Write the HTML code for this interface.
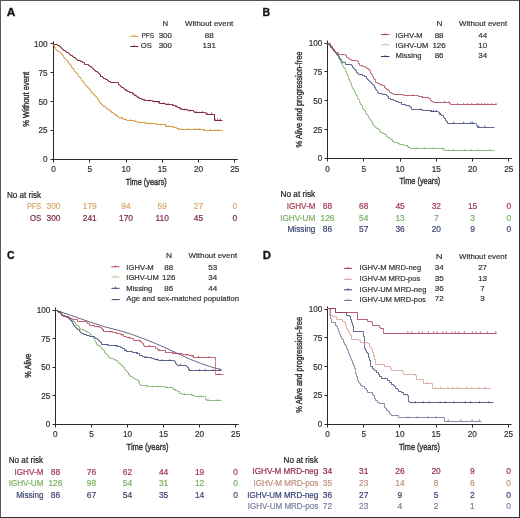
<!DOCTYPE html>
<html><head><meta charset="utf-8"><style>
html,body{margin:0;padding:0;background:#fff;}
svg{display:block;will-change:transform;font-family:"Liberation Sans", sans-serif;}
</style></head><body>
<svg width="520" height="518" viewBox="0 0 520 518">
<rect width="520" height="518" fill="#fff"/>
<line x1="0" y1="0.5" x2="520" y2="0.5" stroke="#555" stroke-width="1"/>
<line x1="0.5" y1="0" x2="0.5" y2="518" stroke="#5a5a5a" stroke-width="1"/>
<line x1="519.5" y1="0" x2="519.5" y2="518" stroke="#333" stroke-width="1"/>
<line x1="0" y1="517.5" x2="520" y2="517.5" stroke="#333" stroke-width="1"/>
<text x="6.70" y="16.04" font-size="11.1" font-weight="bold" fill="#111" stroke="#111" stroke-width="0.3" textLength="8.60" lengthAdjust="spacingAndGlyphs">A</text>
<line x1="53.50" y1="41.30" x2="53.50" y2="159.50" stroke="#2a2a2a" stroke-width="1.0"/>
<line x1="53.00" y1="159.50" x2="237.75" y2="159.50" stroke="#2a2a2a" stroke-width="1.0"/>
<line x1="50.50" y1="159.50" x2="53.50" y2="159.50" stroke="#2a2a2a" stroke-width="1.0"/>
<text x="47.60" y="162.26" font-size="8.2" fill="#333333" stroke="#333333" stroke-width="0.2" text-anchor="end">0</text>
<line x1="50.50" y1="130.50" x2="53.50" y2="130.50" stroke="#2a2a2a" stroke-width="1.0"/>
<text x="47.60" y="133.39" font-size="8.2" fill="#333333" stroke="#333333" stroke-width="0.2" text-anchor="end">25</text>
<line x1="50.50" y1="101.50" x2="53.50" y2="101.50" stroke="#2a2a2a" stroke-width="1.0"/>
<text x="47.60" y="104.51" font-size="8.2" fill="#333333" stroke="#333333" stroke-width="0.2" text-anchor="end">50</text>
<line x1="50.50" y1="72.50" x2="53.50" y2="72.50" stroke="#2a2a2a" stroke-width="1.0"/>
<text x="47.60" y="75.63" font-size="8.2" fill="#333333" stroke="#333333" stroke-width="0.2" text-anchor="end">75</text>
<line x1="50.50" y1="43.50" x2="53.50" y2="43.50" stroke="#2a2a2a" stroke-width="1.0"/>
<text x="47.60" y="46.76" font-size="8.2" fill="#333333" stroke="#333333" stroke-width="0.2" text-anchor="end">100</text>
<line x1="53.50" y1="159.50" x2="53.50" y2="162.50" stroke="#2a2a2a" stroke-width="1.0"/>
<text x="53.50" y="172.26" font-size="8.2" fill="#333333" stroke="#333333" stroke-width="0.2" text-anchor="middle">0</text>
<line x1="89.50" y1="159.50" x2="89.50" y2="162.50" stroke="#2a2a2a" stroke-width="1.0"/>
<text x="89.75" y="172.26" font-size="8.2" fill="#333333" stroke="#333333" stroke-width="0.2" text-anchor="middle">5</text>
<line x1="126.50" y1="159.50" x2="126.50" y2="162.50" stroke="#2a2a2a" stroke-width="1.0"/>
<text x="126.00" y="172.26" font-size="8.2" fill="#333333" stroke="#333333" stroke-width="0.2" text-anchor="middle">10</text>
<line x1="162.50" y1="159.50" x2="162.50" y2="162.50" stroke="#2a2a2a" stroke-width="1.0"/>
<text x="162.25" y="172.26" font-size="8.2" fill="#333333" stroke="#333333" stroke-width="0.2" text-anchor="middle">15</text>
<line x1="198.50" y1="159.50" x2="198.50" y2="162.50" stroke="#2a2a2a" stroke-width="1.0"/>
<text x="198.50" y="172.26" font-size="8.2" fill="#333333" stroke="#333333" stroke-width="0.2" text-anchor="middle">20</text>
<line x1="234.50" y1="159.50" x2="234.50" y2="162.50" stroke="#2a2a2a" stroke-width="1.0"/>
<text x="234.75" y="172.26" font-size="8.2" fill="#333333" stroke="#333333" stroke-width="0.2" text-anchor="middle">25</text>
<text x="125.70" y="184.96" font-size="9.6" fill="#333333" stroke="#333333" stroke-width="0.4" textLength="41.10" lengthAdjust="spacingAndGlyphs">Time (years)</text>
<text transform="translate(29.00,126.70) rotate(-90)" x="0" y="0" font-size="9.3" fill="#333333" stroke="#333333" stroke-width="0.4" textLength="54.90" lengthAdjust="spacingAndGlyphs">% Without event</text>
<text x="162.40" y="26.11" font-size="8.0" fill="#333333" stroke="#333333" stroke-width="0.2" textLength="5.60" lengthAdjust="spacingAndGlyphs">N</text>
<text x="185.00" y="26.11" font-size="8.0" fill="#333333" stroke="#333333" stroke-width="0.2" textLength="48.30" lengthAdjust="spacingAndGlyphs">Without event</text>
<line x1="130.20" y1="36.30" x2="138.30" y2="36.30" stroke="#D8983E" stroke-width="1.0"/>
<line x1="134.25" y1="34.70" x2="134.25" y2="36.60" stroke="#D8983E" stroke-width="0.8"/>
<line x1="130.20" y1="46.50" x2="138.30" y2="46.50" stroke="#801E3E" stroke-width="1.0"/>
<line x1="134.25" y1="44.90" x2="134.25" y2="46.80" stroke="#801E3E" stroke-width="0.8"/>
<text x="141.40" y="37.81" font-size="8.0" fill="#333333" stroke="#333333" stroke-width="0.2" textLength="12.70" lengthAdjust="spacingAndGlyphs">PFS</text>
<text x="158.70" y="37.81" font-size="8.0" fill="#333333" stroke="#333333" stroke-width="0.2" textLength="13.30" lengthAdjust="spacingAndGlyphs">300</text>
<text x="209.20" y="37.81" font-size="8.0" fill="#333333" stroke="#333333" stroke-width="0.2" text-anchor="middle">88</text>
<text x="140.80" y="48.11" font-size="8.0" fill="#333333" stroke="#333333" stroke-width="0.2" textLength="11.00" lengthAdjust="spacingAndGlyphs">OS</text>
<text x="158.70" y="48.11" font-size="8.0" fill="#333333" stroke="#333333" stroke-width="0.2" textLength="13.30" lengthAdjust="spacingAndGlyphs">300</text>
<text x="209.20" y="48.11" font-size="8.0" fill="#333333" stroke="#333333" stroke-width="0.2" text-anchor="middle">131</text>
<text x="6.90" y="197.57" font-size="8.4" fill="#222" stroke="#222" stroke-width="0.2" textLength="34.20" lengthAdjust="spacingAndGlyphs">No at risk</text>
<text x="26.90" y="209.37" font-size="8.4" fill="#D8A868" stroke="#D8A868" stroke-width="0.2" textLength="14.20" lengthAdjust="spacingAndGlyphs">PFS</text>
<text x="53.50" y="209.37" font-size="8.4" fill="#D8A868" stroke="#D8A868" stroke-width="0.2" text-anchor="middle">300</text>
<text x="89.75" y="209.37" font-size="8.4" fill="#D8A868" stroke="#D8A868" stroke-width="0.2" text-anchor="middle">179</text>
<text x="126.00" y="209.37" font-size="8.4" fill="#D8A868" stroke="#D8A868" stroke-width="0.2" text-anchor="middle">94</text>
<text x="162.25" y="209.37" font-size="8.4" fill="#D8A868" stroke="#D8A868" stroke-width="0.2" text-anchor="middle">59</text>
<text x="198.50" y="209.37" font-size="8.4" fill="#D8A868" stroke="#D8A868" stroke-width="0.2" text-anchor="middle">27</text>
<text x="234.75" y="209.37" font-size="8.4" fill="#D8A868" stroke="#D8A868" stroke-width="0.2" text-anchor="middle">0</text>
<text x="29.90" y="220.97" font-size="8.4" fill="#7E2A46" stroke="#7E2A46" stroke-width="0.2" textLength="11.20" lengthAdjust="spacingAndGlyphs">OS</text>
<text x="53.50" y="220.97" font-size="8.4" fill="#7E2A46" stroke="#7E2A46" stroke-width="0.2" text-anchor="middle">300</text>
<text x="89.75" y="220.97" font-size="8.4" fill="#7E2A46" stroke="#7E2A46" stroke-width="0.2" text-anchor="middle">241</text>
<text x="126.00" y="220.97" font-size="8.4" fill="#7E2A46" stroke="#7E2A46" stroke-width="0.2" text-anchor="middle">170</text>
<text x="162.25" y="220.97" font-size="8.4" fill="#7E2A46" stroke="#7E2A46" stroke-width="0.2" text-anchor="middle">110</text>
<text x="198.50" y="220.97" font-size="8.4" fill="#7E2A46" stroke="#7E2A46" stroke-width="0.2" text-anchor="middle">45</text>
<text x="234.75" y="220.97" font-size="8.4" fill="#7E2A46" stroke="#7E2A46" stroke-width="0.2" text-anchor="middle">0</text>
<polyline points="53.50,44.50 53.50,45.50 54.50,45.50 54.50,46.50 54.50,47.50 55.50,47.50 55.50,48.50 55.50,49.50 56.50,49.50 56.50,50.50 57.50,50.50 57.50,51.50 58.50,51.50 59.50,51.50 59.50,52.50 60.50,52.50 60.50,53.50 61.50,53.50 61.50,54.50 62.50,54.50 62.50,55.50 63.50,55.50 63.50,56.50 63.50,57.50 64.50,57.50 64.50,58.50 65.50,58.50 65.50,59.50 66.50,59.50 66.50,60.50 67.50,60.50 67.50,61.50 68.50,61.50 68.50,62.50 68.50,63.50 69.50,63.50 69.50,64.50 70.50,64.50 70.50,65.50 71.50,65.50 71.50,66.50 71.50,67.50 72.50,67.50 72.50,68.50 73.50,68.50 73.50,69.50 74.50,69.50 74.50,70.50 74.50,71.50 75.50,71.50 75.50,72.50 76.50,72.50 76.50,73.50 77.50,73.50 77.50,74.50 78.50,74.50 78.50,75.50 78.50,76.50 79.50,76.50 79.50,77.50 80.50,77.50 80.50,78.50 81.50,78.50 81.50,79.50 81.50,80.50 82.50,80.50 82.50,81.50 83.50,81.50 83.50,82.50 84.50,82.50 84.50,83.50 84.50,84.50 85.50,84.50 85.50,85.50 86.50,85.50 86.50,86.50 87.50,86.50 87.50,87.50 88.50,87.50 88.50,88.50 89.50,88.50 89.50,89.50 90.50,89.50 90.50,90.50 90.50,91.50 91.50,91.50 91.50,92.50 92.50,92.50 92.50,93.50 93.50,93.50 93.50,94.50 94.50,94.50 94.50,95.50 95.50,95.50 95.50,96.50 96.50,96.50 96.50,97.50 97.50,97.50 97.50,98.50 97.50,99.50 98.50,99.50 98.50,100.50 99.50,100.50 99.50,101.50 99.50,102.50 100.50,102.50 100.50,103.50 101.50,103.50 101.50,104.50 102.50,104.50 102.50,105.50 103.50,105.50 103.50,106.50 105.50,106.50 105.50,107.50 106.50,107.50 106.50,108.50 107.50,108.50 107.50,109.50 109.50,109.50 109.50,110.50 110.50,110.50 110.50,111.50 111.50,111.50 111.50,112.50 113.50,112.50 113.50,113.50 114.50,113.50 114.50,114.50 115.50,114.50 115.50,115.50 117.50,115.50 117.50,116.50 118.50,116.50 118.50,117.50 121.50,117.50 121.50,118.50 123.50,118.50 123.50,119.50 126.50,119.50 126.50,120.50 134.50,120.50 134.50,121.50 137.50,121.50 137.50,122.50 145.50,122.50 145.50,123.50 156.50,123.50 156.50,124.50 165.50,124.50 165.50,126.50 170.50,126.50 173.50,126.50 173.50,127.50 176.50,127.50 176.50,128.50 179.50,128.50 179.50,129.50 187.50,129.50 201.50,129.50 203.50,129.50 203.50,130.50 222.50,130.50" fill="none" stroke="#D8983E" stroke-width="0.95" stroke-linejoin="miter" opacity="1.0"/>
<polyline points="53.50,44.50 57.50,44.50 57.50,45.50 59.50,45.50 59.50,46.50 60.50,46.50 60.50,47.50 61.50,47.50 61.50,48.50 62.50,48.50 62.50,49.50 63.50,49.50 63.50,50.50 65.50,50.50 65.50,51.50 66.50,51.50 66.50,52.50 68.50,52.50 68.50,53.50 69.50,53.50 69.50,54.50 70.50,54.50 70.50,55.50 72.50,55.50 72.50,56.50 73.50,56.50 73.50,57.50 75.50,57.50 75.50,58.50 76.50,58.50 76.50,59.50 77.50,59.50 77.50,60.50 80.50,60.50 80.50,61.50 82.50,61.50 82.50,62.50 84.50,62.50 84.50,64.50 86.50,64.50 88.50,64.50 88.50,65.50 89.50,65.50 89.50,66.50 91.50,66.50 91.50,67.50 92.50,67.50 92.50,68.50 93.50,68.50 93.50,69.50 94.50,69.50 94.50,70.50 95.50,70.50 95.50,71.50 97.50,71.50 97.50,72.50 98.50,72.50 98.50,73.50 99.50,73.50 99.50,74.50 100.50,74.50 100.50,76.50 102.50,76.50 102.50,77.50 103.50,77.50 103.50,78.50 105.50,78.50 105.50,79.50 107.50,79.50 107.50,80.50 108.50,80.50 108.50,81.50 110.50,81.50 110.50,82.50 115.50,82.50 118.50,82.50 118.50,84.50 119.50,84.50 119.50,85.50 120.50,85.50 120.50,86.50 121.50,86.50 121.50,87.50 123.50,87.50 123.50,88.50 124.50,88.50 124.50,89.50 125.50,89.50 125.50,90.50 127.50,90.50 127.50,91.50 129.50,91.50 129.50,92.50 132.50,92.50 132.50,93.50 133.50,93.50 133.50,94.50 134.50,94.50 134.50,95.50 136.50,95.50 136.50,96.50 137.50,96.50 137.50,97.50 139.50,97.50 139.50,98.50 141.50,98.50 141.50,99.50 144.50,99.50 144.50,100.50 152.50,100.50 152.50,101.50 159.50,101.50 159.50,103.50 165.50,103.50 165.50,104.50 170.50,104.50 172.50,104.50 172.50,105.50 175.50,105.50 175.50,106.50 177.50,106.50 177.50,107.50 179.50,107.50 179.50,108.50 181.50,108.50 181.50,109.50 187.50,109.50 187.50,110.50 193.50,110.50 193.50,111.50 194.50,111.50 194.50,112.50 203.50,112.50 205.50,112.50 205.50,113.50 206.50,113.50 206.50,114.50 214.50,114.50 214.50,120.50 222.50,120.50" fill="none" stroke="#801E3E" stroke-width="0.95" stroke-linejoin="miter" opacity="1.0"/>
<line x1="110.87" y1="112.16" x2="110.87" y2="110.26" stroke="#D8983E" stroke-width="0.8"/>
<line x1="116.76" y1="116.38" x2="116.76" y2="114.48" stroke="#D8983E" stroke-width="0.8"/>
<line x1="122.32" y1="118.87" x2="122.32" y2="116.97" stroke="#D8983E" stroke-width="0.8"/>
<line x1="125.84" y1="120.05" x2="125.84" y2="118.15" stroke="#D8983E" stroke-width="0.8"/>
<line x1="130.32" y1="120.94" x2="130.32" y2="119.04" stroke="#D8983E" stroke-width="0.8"/>
<line x1="134.62" y1="121.69" x2="134.62" y2="119.79" stroke="#D8983E" stroke-width="0.8"/>
<line x1="139.72" y1="123.20" x2="139.72" y2="121.30" stroke="#D8983E" stroke-width="0.8"/>
<line x1="145.38" y1="123.69" x2="145.38" y2="121.79" stroke="#D8983E" stroke-width="0.8"/>
<line x1="148.25" y1="124.03" x2="148.25" y2="122.13" stroke="#D8983E" stroke-width="0.8"/>
<line x1="150.87" y1="124.34" x2="150.87" y2="122.44" stroke="#D8983E" stroke-width="0.8"/>
<line x1="156.71" y1="125.05" x2="156.71" y2="123.15" stroke="#D8983E" stroke-width="0.8"/>
<line x1="160.94" y1="125.68" x2="160.94" y2="123.78" stroke="#D8983E" stroke-width="0.8"/>
<line x1="166.49" y1="126.53" x2="166.49" y2="124.63" stroke="#D8983E" stroke-width="0.8"/>
<line x1="169.00" y1="127.01" x2="169.00" y2="125.11" stroke="#D8983E" stroke-width="0.8"/>
<line x1="173.28" y1="128.23" x2="173.28" y2="126.33" stroke="#D8983E" stroke-width="0.8"/>
<line x1="178.67" y1="129.93" x2="178.67" y2="128.03" stroke="#D8983E" stroke-width="0.8"/>
<line x1="182.08" y1="129.89" x2="182.08" y2="127.99" stroke="#D8983E" stroke-width="0.8"/>
<line x1="188.36" y1="129.55" x2="188.36" y2="127.65" stroke="#D8983E" stroke-width="0.8"/>
<line x1="194.47" y1="129.81" x2="194.47" y2="127.91" stroke="#D8983E" stroke-width="0.8"/>
<line x1="197.09" y1="129.92" x2="197.09" y2="128.02" stroke="#D8983E" stroke-width="0.8"/>
<line x1="199.69" y1="130.03" x2="199.69" y2="128.13" stroke="#D8983E" stroke-width="0.8"/>
<line x1="204.36" y1="130.90" x2="204.36" y2="129.00" stroke="#D8983E" stroke-width="0.8"/>
<line x1="210.62" y1="130.90" x2="210.62" y2="129.00" stroke="#D8983E" stroke-width="0.8"/>
<line x1="214.64" y1="130.90" x2="214.64" y2="129.00" stroke="#D8983E" stroke-width="0.8"/>
<line x1="218.01" y1="130.90" x2="218.01" y2="129.00" stroke="#D8983E" stroke-width="0.8"/>
<line x1="126.21" y1="91.05" x2="126.21" y2="89.15" stroke="#801E3E" stroke-width="0.8"/>
<line x1="132.51" y1="94.28" x2="132.51" y2="92.38" stroke="#801E3E" stroke-width="0.8"/>
<line x1="135.23" y1="96.35" x2="135.23" y2="94.45" stroke="#801E3E" stroke-width="0.8"/>
<line x1="138.07" y1="98.27" x2="138.07" y2="96.37" stroke="#801E3E" stroke-width="0.8"/>
<line x1="143.91" y1="100.59" x2="143.91" y2="98.69" stroke="#801E3E" stroke-width="0.8"/>
<line x1="149.36" y1="101.59" x2="149.36" y2="99.69" stroke="#801E3E" stroke-width="0.8"/>
<line x1="154.54" y1="102.53" x2="154.54" y2="100.63" stroke="#801E3E" stroke-width="0.8"/>
<line x1="158.27" y1="103.26" x2="158.27" y2="101.36" stroke="#801E3E" stroke-width="0.8"/>
<line x1="163.19" y1="104.26" x2="163.19" y2="102.36" stroke="#801E3E" stroke-width="0.8"/>
<line x1="168.12" y1="104.74" x2="168.12" y2="102.84" stroke="#801E3E" stroke-width="0.8"/>
<line x1="172.94" y1="105.87" x2="172.94" y2="103.97" stroke="#801E3E" stroke-width="0.8"/>
<line x1="176.08" y1="107.14" x2="176.08" y2="105.24" stroke="#801E3E" stroke-width="0.8"/>
<line x1="180.30" y1="109.29" x2="180.30" y2="107.39" stroke="#801E3E" stroke-width="0.8"/>
<line x1="184.37" y1="110.49" x2="184.37" y2="108.59" stroke="#801E3E" stroke-width="0.8"/>
<line x1="189.77" y1="111.57" x2="189.77" y2="109.67" stroke="#801E3E" stroke-width="0.8"/>
<line x1="196.25" y1="113.00" x2="196.25" y2="111.10" stroke="#801E3E" stroke-width="0.8"/>
<line x1="202.54" y1="113.00" x2="202.54" y2="111.10" stroke="#801E3E" stroke-width="0.8"/>
<line x1="207.22" y1="114.50" x2="207.22" y2="112.60" stroke="#801E3E" stroke-width="0.8"/>
<line x1="211.50" y1="114.50" x2="211.50" y2="112.60" stroke="#801E3E" stroke-width="0.8"/>
<line x1="215.07" y1="120.30" x2="215.07" y2="118.40" stroke="#801E3E" stroke-width="0.8"/>
<line x1="217.72" y1="120.30" x2="217.72" y2="118.40" stroke="#801E3E" stroke-width="0.8"/>
<line x1="220.33" y1="120.30" x2="220.33" y2="118.40" stroke="#801E3E" stroke-width="0.8"/>
<text x="262.50" y="16.04" font-size="11.1" font-weight="bold" fill="#111" stroke="#111" stroke-width="0.3" textLength="7.60" lengthAdjust="spacingAndGlyphs">B</text>
<line x1="327.50" y1="40.50" x2="327.50" y2="158.50" stroke="#2a2a2a" stroke-width="1.0"/>
<line x1="327.00" y1="158.50" x2="511.88" y2="158.50" stroke="#2a2a2a" stroke-width="1.0"/>
<line x1="324.50" y1="158.50" x2="327.50" y2="158.50" stroke="#2a2a2a" stroke-width="1.0"/>
<text x="322.40" y="161.36" font-size="8.2" fill="#333333" stroke="#333333" stroke-width="0.2" text-anchor="end">0</text>
<line x1="324.50" y1="129.50" x2="327.50" y2="129.50" stroke="#2a2a2a" stroke-width="1.0"/>
<text x="322.40" y="132.51" font-size="8.2" fill="#333333" stroke="#333333" stroke-width="0.2" text-anchor="end">25</text>
<line x1="324.50" y1="100.50" x2="327.50" y2="100.50" stroke="#2a2a2a" stroke-width="1.0"/>
<text x="322.40" y="103.66" font-size="8.2" fill="#333333" stroke="#333333" stroke-width="0.2" text-anchor="end">50</text>
<line x1="324.50" y1="71.50" x2="327.50" y2="71.50" stroke="#2a2a2a" stroke-width="1.0"/>
<text x="322.40" y="74.81" font-size="8.2" fill="#333333" stroke="#333333" stroke-width="0.2" text-anchor="end">75</text>
<line x1="324.50" y1="43.50" x2="327.50" y2="43.50" stroke="#2a2a2a" stroke-width="1.0"/>
<text x="322.40" y="45.96" font-size="8.2" fill="#333333" stroke="#333333" stroke-width="0.2" text-anchor="end">100</text>
<line x1="327.50" y1="158.50" x2="327.50" y2="161.50" stroke="#2a2a2a" stroke-width="1.0"/>
<text x="327.50" y="171.76" font-size="8.2" fill="#333333" stroke="#333333" stroke-width="0.2" text-anchor="middle">0</text>
<line x1="363.50" y1="158.50" x2="363.50" y2="161.50" stroke="#2a2a2a" stroke-width="1.0"/>
<text x="363.77" y="171.76" font-size="8.2" fill="#333333" stroke="#333333" stroke-width="0.2" text-anchor="middle">5</text>
<line x1="400.50" y1="158.50" x2="400.50" y2="161.50" stroke="#2a2a2a" stroke-width="1.0"/>
<text x="400.05" y="171.76" font-size="8.2" fill="#333333" stroke="#333333" stroke-width="0.2" text-anchor="middle">10</text>
<line x1="436.50" y1="158.50" x2="436.50" y2="161.50" stroke="#2a2a2a" stroke-width="1.0"/>
<text x="436.32" y="171.76" font-size="8.2" fill="#333333" stroke="#333333" stroke-width="0.2" text-anchor="middle">15</text>
<line x1="472.50" y1="158.50" x2="472.50" y2="161.50" stroke="#2a2a2a" stroke-width="1.0"/>
<text x="472.60" y="171.76" font-size="8.2" fill="#333333" stroke="#333333" stroke-width="0.2" text-anchor="middle">20</text>
<line x1="508.50" y1="158.50" x2="508.50" y2="161.50" stroke="#2a2a2a" stroke-width="1.0"/>
<text x="508.88" y="171.76" font-size="8.2" fill="#333333" stroke="#333333" stroke-width="0.2" text-anchor="middle">25</text>
<text x="399.40" y="184.46" font-size="9.6" fill="#333333" stroke="#333333" stroke-width="0.4" textLength="40.90" lengthAdjust="spacingAndGlyphs">Time (years)</text>
<text transform="translate(302.30,147.40) rotate(-90)" x="0" y="0" font-size="9.3" fill="#333333" stroke="#333333" stroke-width="0.4" textLength="95.90" lengthAdjust="spacingAndGlyphs">% Alive and progression-free</text>
<text x="436.60" y="26.41" font-size="8.0" fill="#333333" stroke="#333333" stroke-width="0.2" textLength="6.00" lengthAdjust="spacingAndGlyphs">N</text>
<text x="459.10" y="26.41" font-size="8.0" fill="#333333" stroke="#333333" stroke-width="0.2" textLength="48.00" lengthAdjust="spacingAndGlyphs">Without event</text>
<line x1="381.00" y1="34.60" x2="389.50" y2="34.60" stroke="#B0404F" stroke-width="1.0"/>
<line x1="385.25" y1="33.00" x2="385.25" y2="34.90" stroke="#B0404F" stroke-width="0.8"/>
<line x1="381.00" y1="44.80" x2="389.50" y2="44.80" stroke="#A8D098" stroke-width="1.0"/>
<line x1="385.25" y1="43.20" x2="385.25" y2="45.10" stroke="#A8D098" stroke-width="0.8"/>
<line x1="381.00" y1="56.50" x2="389.50" y2="56.50" stroke="#323E72" stroke-width="1.0"/>
<line x1="385.25" y1="54.90" x2="385.25" y2="56.80" stroke="#323E72" stroke-width="0.8"/>
<text x="395.60" y="38.01" font-size="8.0" fill="#333333" stroke="#333333" stroke-width="0.2" textLength="27.00" lengthAdjust="spacingAndGlyphs">IGHV-M</text>
<text x="395.60" y="48.21" font-size="8.0" fill="#333333" stroke="#333333" stroke-width="0.2" textLength="32.80" lengthAdjust="spacingAndGlyphs">IGHV-UM</text>
<text x="395.60" y="57.91" font-size="8.0" fill="#333333" stroke="#333333" stroke-width="0.2" textLength="25.90" lengthAdjust="spacingAndGlyphs">Missing</text>
<text x="439.10" y="37.91" font-size="8.0" fill="#333333" stroke="#333333" stroke-width="0.2" text-anchor="middle">88</text>
<text x="482.80" y="37.91" font-size="8.0" fill="#333333" stroke="#333333" stroke-width="0.2" text-anchor="middle">44</text>
<text x="439.10" y="48.11" font-size="8.0" fill="#333333" stroke="#333333" stroke-width="0.2" text-anchor="middle">126</text>
<text x="482.80" y="48.11" font-size="8.0" fill="#333333" stroke="#333333" stroke-width="0.2" text-anchor="middle">10</text>
<text x="439.10" y="57.91" font-size="8.0" fill="#333333" stroke="#333333" stroke-width="0.2" text-anchor="middle">86</text>
<text x="482.80" y="57.91" font-size="8.0" fill="#333333" stroke="#333333" stroke-width="0.2" text-anchor="middle">34</text>
<text x="280.60" y="197.22" font-size="8.4" fill="#222" stroke="#222" stroke-width="0.2" textLength="34.60" lengthAdjust="spacingAndGlyphs">No at risk</text>
<text x="286.70" y="208.77" font-size="8.4" fill="#A43A50" stroke="#A43A50" stroke-width="0.2" textLength="28.70" lengthAdjust="spacingAndGlyphs">IGHV-M</text>
<text x="327.50" y="208.77" font-size="8.4" fill="#A43A50" stroke="#A43A50" stroke-width="0.2" text-anchor="middle">88</text>
<text x="363.77" y="208.77" font-size="8.4" fill="#A43A50" stroke="#A43A50" stroke-width="0.2" text-anchor="middle">68</text>
<text x="400.05" y="208.77" font-size="8.4" fill="#A43A50" stroke="#A43A50" stroke-width="0.2" text-anchor="middle">45</text>
<text x="436.32" y="208.77" font-size="8.4" fill="#A43A50" stroke="#A43A50" stroke-width="0.2" text-anchor="middle">32</text>
<text x="472.60" y="208.77" font-size="8.4" fill="#A43A50" stroke="#A43A50" stroke-width="0.2" text-anchor="middle">15</text>
<text x="508.88" y="208.77" font-size="8.4" fill="#A43A50" stroke="#A43A50" stroke-width="0.2" text-anchor="middle">0</text>
<text x="280.20" y="220.77" font-size="8.4" fill="#7DB062" stroke="#7DB062" stroke-width="0.2" textLength="35.20" lengthAdjust="spacingAndGlyphs">IGHV-UM</text>
<text x="327.50" y="220.77" font-size="8.4" fill="#7DB062" stroke="#7DB062" stroke-width="0.2" text-anchor="middle">126</text>
<text x="363.77" y="220.77" font-size="8.4" fill="#7DB062" stroke="#7DB062" stroke-width="0.2" text-anchor="middle">54</text>
<text x="400.05" y="220.77" font-size="8.4" fill="#7DB062" stroke="#7DB062" stroke-width="0.2" text-anchor="middle">13</text>
<text x="436.32" y="220.77" font-size="8.4" fill="#7DB062" stroke="#7DB062" stroke-width="0.2" text-anchor="middle">7</text>
<text x="472.60" y="220.77" font-size="8.4" fill="#7DB062" stroke="#7DB062" stroke-width="0.2" text-anchor="middle">3</text>
<text x="508.88" y="220.77" font-size="8.4" fill="#7DB062" stroke="#7DB062" stroke-width="0.2" text-anchor="middle">0</text>
<text x="287.50" y="231.87" font-size="8.4" fill="#3E4672" stroke="#3E4672" stroke-width="0.2" textLength="27.90" lengthAdjust="spacingAndGlyphs">Missing</text>
<text x="327.50" y="231.87" font-size="8.4" fill="#3E4672" stroke="#3E4672" stroke-width="0.2" text-anchor="middle">86</text>
<text x="363.77" y="231.87" font-size="8.4" fill="#3E4672" stroke="#3E4672" stroke-width="0.2" text-anchor="middle">57</text>
<text x="400.05" y="231.87" font-size="8.4" fill="#3E4672" stroke="#3E4672" stroke-width="0.2" text-anchor="middle">36</text>
<text x="436.32" y="231.87" font-size="8.4" fill="#3E4672" stroke="#3E4672" stroke-width="0.2" text-anchor="middle">20</text>
<text x="472.60" y="231.87" font-size="8.4" fill="#3E4672" stroke="#3E4672" stroke-width="0.2" text-anchor="middle">9</text>
<text x="508.88" y="231.87" font-size="8.4" fill="#3E4672" stroke="#3E4672" stroke-width="0.2" text-anchor="middle">0</text>
<polyline points="327.50,43.50 328.50,43.50 328.50,44.50 329.50,44.50 329.50,45.50 330.50,45.50 330.50,46.50 331.50,46.50 331.50,47.50 331.50,48.50 332.50,48.50 332.50,49.50 333.50,49.50 333.50,50.50 333.50,51.50 335.50,51.50 335.50,53.50 337.50,53.50 337.50,54.50 337.50,55.50 338.50,55.50 338.50,57.50 338.50,58.50 339.50,58.50 339.50,59.50 340.50,59.50 340.50,61.50 340.50,62.50 341.50,62.50 341.50,63.50 342.50,63.50 342.50,64.50 342.50,66.50 343.50,66.50 343.50,67.50 344.50,67.50 344.50,68.50 345.50,68.50 345.50,69.50 345.50,71.50 346.50,71.50 346.50,72.50 346.50,73.50 347.50,73.50 347.50,74.50 347.50,75.50 348.50,75.50 348.50,76.50 348.50,78.50 348.50,79.50 349.50,79.50 349.50,80.50 349.50,81.50 350.50,81.50 350.50,82.50 350.50,83.50 351.50,83.50 351.50,85.50 351.50,86.50 352.50,86.50 352.50,87.50 352.50,88.50 353.50,88.50 353.50,89.50 354.50,89.50 354.50,91.50 354.50,92.50 355.50,92.50 355.50,93.50 355.50,94.50 356.50,94.50 356.50,95.50 357.50,95.50 357.50,97.50 357.50,98.50 358.50,98.50 358.50,99.50 359.50,99.50 359.50,100.50 359.50,102.50 360.50,102.50 360.50,103.50 360.50,104.50 361.50,104.50 361.50,105.50 362.50,105.50 362.50,107.50 362.50,108.50 363.50,108.50 363.50,109.50 364.50,109.50 364.50,110.50 365.50,110.50 365.50,112.50 365.50,113.50 366.50,113.50 366.50,114.50 367.50,114.50 367.50,115.50 368.50,115.50 368.50,116.50 368.50,117.50 369.50,117.50 369.50,119.50 370.50,119.50 370.50,120.50 371.50,120.50 371.50,121.50 372.50,121.50 372.50,122.50 372.50,124.50 373.50,124.50 373.50,125.50 374.50,125.50 374.50,126.50 375.50,126.50 375.50,127.50 376.50,127.50 376.50,128.50 378.50,128.50 378.50,129.50 379.50,129.50 379.50,131.50 380.50,131.50 380.50,132.50 382.50,132.50 382.50,133.50 384.50,133.50 384.50,134.50 386.50,134.50 386.50,136.50 387.50,136.50 387.50,137.50 389.50,137.50 389.50,138.50 390.50,138.50 390.50,139.50 392.50,139.50 392.50,141.50 394.50,141.50 394.50,142.50 397.50,142.50 397.50,143.50 399.50,143.50 399.50,144.50 403.50,144.50 403.50,145.50 407.50,145.50 407.50,146.50 408.50,146.50 408.50,147.50 410.50,147.50 410.50,148.50 442.50,148.50 443.50,148.50 443.50,149.50 444.50,149.50 444.50,150.50 494.50,150.50" fill="none" stroke="#78AE64" stroke-width="0.8" stroke-linejoin="miter" opacity="1.0"/>
<polyline points="327.50,43.50 328.50,43.50 328.50,44.50 329.50,44.50 329.50,45.50 330.50,45.50 330.50,47.50 332.50,47.50 332.50,48.50 332.50,49.50 333.50,49.50 333.50,50.50 334.50,50.50 334.50,51.50 335.50,51.50 335.50,52.50 336.50,52.50 336.50,54.50 337.50,54.50 337.50,55.50 338.50,55.50 338.50,56.50 339.50,56.50 339.50,58.50 340.50,58.50 340.50,59.50 341.50,59.50 341.50,60.50 341.50,61.50 342.50,61.50 342.50,62.50 345.50,62.50 345.50,64.50 351.50,64.50 351.50,65.50 352.50,65.50 352.50,67.50 353.50,67.50 353.50,68.50 354.50,68.50 354.50,69.50 355.50,69.50 355.50,70.50 356.50,70.50 356.50,72.50 357.50,72.50 357.50,73.50 358.50,73.50 358.50,74.50 362.50,74.50 362.50,75.50 364.50,75.50 364.50,76.50 366.50,76.50 366.50,78.50 367.50,78.50 367.50,79.50 368.50,79.50 368.50,80.50 369.50,80.50 369.50,81.50 370.50,81.50 370.50,82.50 371.50,82.50 371.50,83.50 372.50,83.50 372.50,84.50 373.50,84.50 373.50,85.50 374.50,85.50 374.50,87.50 375.50,87.50 375.50,88.50 375.50,89.50 376.50,89.50 376.50,90.50 377.50,90.50 377.50,91.50 377.50,92.50 378.50,92.50 378.50,93.50 382.50,93.50 382.50,94.50 386.50,94.50 386.50,95.50 387.50,95.50 387.50,96.50 388.50,96.50 388.50,98.50 390.50,98.50 390.50,99.50 393.50,99.50 393.50,100.50 395.50,100.50 395.50,101.50 398.50,101.50 398.50,102.50 401.50,102.50 401.50,104.50 405.50,104.50 405.50,105.50 409.50,105.50 409.50,106.50 410.50,106.50 410.50,107.50 411.50,107.50 411.50,109.50 419.50,109.50 422.50,109.50 422.50,110.50 430.50,110.50 430.50,111.50 437.50,111.50 438.50,111.50 438.50,112.50 439.50,112.50 439.50,114.50 441.50,114.50 441.50,115.50 443.50,115.50 443.50,116.50 443.50,117.50 444.50,117.50 444.50,118.50 445.50,118.50 445.50,120.50 446.50,120.50 446.50,121.50 447.50,121.50 447.50,123.50 475.50,123.50 476.50,123.50 476.50,124.50 476.50,125.50 477.50,125.50 477.50,127.50 494.50,127.50" fill="none" stroke="#323E72" stroke-width="0.8" stroke-linejoin="miter" opacity="1.0"/>
<polyline points="327.50,43.50 330.50,43.50 330.50,44.50 330.50,45.50 331.50,45.50 331.50,46.50 332.50,46.50 332.50,47.50 332.50,48.50 333.50,48.50 333.50,49.50 334.50,49.50 334.50,50.50 334.50,51.50 335.50,51.50 335.50,52.50 338.50,52.50 338.50,54.50 344.50,54.50 345.50,54.50 345.50,55.50 346.50,55.50 346.50,57.50 348.50,57.50 348.50,58.50 349.50,58.50 349.50,59.50 351.50,59.50 351.50,60.50 357.50,60.50 357.50,61.50 358.50,61.50 358.50,62.50 358.50,63.50 359.50,63.50 359.50,65.50 362.50,65.50 362.50,66.50 365.50,66.50 365.50,67.50 366.50,67.50 366.50,68.50 368.50,68.50 368.50,69.50 369.50,69.50 369.50,70.50 370.50,70.50 370.50,71.50 370.50,73.50 371.50,73.50 371.50,74.50 372.50,74.50 372.50,75.50 372.50,76.50 373.50,76.50 373.50,77.50 373.50,78.50 374.50,78.50 374.50,79.50 375.50,79.50 375.50,81.50 375.50,82.50 377.50,82.50 377.50,83.50 379.50,83.50 379.50,84.50 381.50,84.50 381.50,85.50 384.50,85.50 384.50,87.50 385.50,87.50 385.50,88.50 386.50,88.50 386.50,89.50 388.50,89.50 388.50,90.50 389.50,90.50 389.50,92.50 391.50,92.50 391.50,93.50 393.50,93.50 393.50,94.50 403.50,94.50 403.50,95.50 415.50,95.50 418.50,95.50 418.50,96.50 422.50,96.50 422.50,97.50 428.50,97.50 428.50,98.50 430.50,98.50 430.50,100.50 431.50,100.50 431.50,101.50 433.50,101.50 433.50,102.50 448.50,102.50 449.50,102.50 449.50,103.50 450.50,103.50 450.50,104.50 496.50,104.50" fill="none" stroke="#B0404F" stroke-width="0.8" stroke-linejoin="miter" opacity="1.0"/>
<line x1="413.20" y1="96.00" x2="413.20" y2="94.10" stroke="#B0404F" stroke-width="0.8"/>
<line x1="422.30" y1="97.78" x2="422.30" y2="95.88" stroke="#B0404F" stroke-width="0.8"/>
<line x1="444.50" y1="102.70" x2="444.50" y2="100.80" stroke="#B0404F" stroke-width="0.8"/>
<line x1="449.10" y1="103.30" x2="449.10" y2="101.40" stroke="#B0404F" stroke-width="0.8"/>
<line x1="457.60" y1="105.00" x2="457.60" y2="103.10" stroke="#B0404F" stroke-width="0.8"/>
<line x1="463.70" y1="105.00" x2="463.70" y2="103.10" stroke="#B0404F" stroke-width="0.8"/>
<line x1="467.70" y1="105.00" x2="467.70" y2="103.10" stroke="#B0404F" stroke-width="0.8"/>
<line x1="471.80" y1="105.00" x2="471.80" y2="103.10" stroke="#B0404F" stroke-width="0.8"/>
<line x1="476.80" y1="105.00" x2="476.80" y2="103.10" stroke="#B0404F" stroke-width="0.8"/>
<line x1="478.80" y1="105.00" x2="478.80" y2="103.10" stroke="#B0404F" stroke-width="0.8"/>
<line x1="481.90" y1="105.00" x2="481.90" y2="103.10" stroke="#B0404F" stroke-width="0.8"/>
<line x1="484.90" y1="105.00" x2="484.90" y2="103.10" stroke="#B0404F" stroke-width="0.8"/>
<line x1="487.90" y1="105.00" x2="487.90" y2="103.10" stroke="#B0404F" stroke-width="0.8"/>
<line x1="491.60" y1="105.00" x2="491.60" y2="103.10" stroke="#B0404F" stroke-width="0.8"/>
<line x1="496.00" y1="105.00" x2="496.00" y2="103.10" stroke="#B0404F" stroke-width="0.8"/>
<line x1="420.30" y1="110.34" x2="420.30" y2="108.44" stroke="#323E72" stroke-width="0.8"/>
<line x1="431.40" y1="112.00" x2="431.40" y2="110.10" stroke="#323E72" stroke-width="0.8"/>
<line x1="433.40" y1="112.00" x2="433.40" y2="110.10" stroke="#323E72" stroke-width="0.8"/>
<line x1="436.40" y1="112.00" x2="436.40" y2="110.10" stroke="#323E72" stroke-width="0.8"/>
<line x1="440.50" y1="115.03" x2="440.50" y2="113.13" stroke="#323E72" stroke-width="0.8"/>
<line x1="453.60" y1="123.50" x2="453.60" y2="121.60" stroke="#323E72" stroke-width="0.8"/>
<line x1="463.70" y1="123.50" x2="463.70" y2="121.60" stroke="#323E72" stroke-width="0.8"/>
<line x1="470.80" y1="123.50" x2="470.80" y2="121.60" stroke="#323E72" stroke-width="0.8"/>
<line x1="472.80" y1="123.50" x2="472.80" y2="121.60" stroke="#323E72" stroke-width="0.8"/>
<line x1="478.80" y1="127.40" x2="478.80" y2="125.50" stroke="#323E72" stroke-width="0.8"/>
<line x1="484.90" y1="127.40" x2="484.90" y2="125.50" stroke="#323E72" stroke-width="0.8"/>
<line x1="407.86" y1="147.40" x2="407.86" y2="145.50" stroke="#78AE64" stroke-width="0.8"/>
<line x1="416.67" y1="149.00" x2="416.67" y2="147.10" stroke="#78AE64" stroke-width="0.8"/>
<line x1="424.25" y1="149.00" x2="424.25" y2="147.10" stroke="#78AE64" stroke-width="0.8"/>
<line x1="433.48" y1="149.00" x2="433.48" y2="147.10" stroke="#78AE64" stroke-width="0.8"/>
<line x1="442.86" y1="149.40" x2="442.86" y2="147.50" stroke="#78AE64" stroke-width="0.8"/>
<line x1="448.32" y1="151.00" x2="448.32" y2="149.10" stroke="#78AE64" stroke-width="0.8"/>
<line x1="453.41" y1="151.00" x2="453.41" y2="149.10" stroke="#78AE64" stroke-width="0.8"/>
<line x1="464.28" y1="151.00" x2="464.28" y2="149.10" stroke="#78AE64" stroke-width="0.8"/>
<line x1="471.09" y1="151.00" x2="471.09" y2="149.10" stroke="#78AE64" stroke-width="0.8"/>
<line x1="477.73" y1="151.00" x2="477.73" y2="149.10" stroke="#78AE64" stroke-width="0.8"/>
<line x1="489.70" y1="151.00" x2="489.70" y2="149.10" stroke="#78AE64" stroke-width="0.8"/>
<text x="6.90" y="258.94" font-size="11.1" font-weight="bold" fill="#111" stroke="#111" stroke-width="0.3" textLength="7.60" lengthAdjust="spacingAndGlyphs">C</text>
<line x1="55.50" y1="307.50" x2="55.50" y2="424.50" stroke="#2a2a2a" stroke-width="1.0"/>
<line x1="55.00" y1="424.50" x2="238.65" y2="424.50" stroke="#2a2a2a" stroke-width="1.0"/>
<line x1="52.50" y1="424.50" x2="55.50" y2="424.50" stroke="#2a2a2a" stroke-width="1.0"/>
<text x="50.40" y="427.26" font-size="8.2" fill="#333333" stroke="#333333" stroke-width="0.2" text-anchor="end">0</text>
<line x1="52.50" y1="395.50" x2="55.50" y2="395.50" stroke="#2a2a2a" stroke-width="1.0"/>
<text x="50.40" y="398.69" font-size="8.2" fill="#333333" stroke="#333333" stroke-width="0.2" text-anchor="end">25</text>
<line x1="52.50" y1="367.50" x2="55.50" y2="367.50" stroke="#2a2a2a" stroke-width="1.0"/>
<text x="50.40" y="370.11" font-size="8.2" fill="#333333" stroke="#333333" stroke-width="0.2" text-anchor="end">50</text>
<line x1="52.50" y1="338.50" x2="55.50" y2="338.50" stroke="#2a2a2a" stroke-width="1.0"/>
<text x="50.40" y="341.53" font-size="8.2" fill="#333333" stroke="#333333" stroke-width="0.2" text-anchor="end">75</text>
<line x1="52.50" y1="310.50" x2="55.50" y2="310.50" stroke="#2a2a2a" stroke-width="1.0"/>
<text x="50.40" y="312.96" font-size="8.2" fill="#333333" stroke="#333333" stroke-width="0.2" text-anchor="end">100</text>
<line x1="55.50" y1="424.50" x2="55.50" y2="427.50" stroke="#2a2a2a" stroke-width="1.0"/>
<text x="55.40" y="437.16" font-size="8.2" fill="#333333" stroke="#333333" stroke-width="0.2" text-anchor="middle">0</text>
<line x1="91.50" y1="424.50" x2="91.50" y2="427.50" stroke="#2a2a2a" stroke-width="1.0"/>
<text x="91.45" y="437.16" font-size="8.2" fill="#333333" stroke="#333333" stroke-width="0.2" text-anchor="middle">5</text>
<line x1="127.50" y1="424.50" x2="127.50" y2="427.50" stroke="#2a2a2a" stroke-width="1.0"/>
<text x="127.50" y="437.16" font-size="8.2" fill="#333333" stroke="#333333" stroke-width="0.2" text-anchor="middle">10</text>
<line x1="163.50" y1="424.50" x2="163.50" y2="427.50" stroke="#2a2a2a" stroke-width="1.0"/>
<text x="163.55" y="437.16" font-size="8.2" fill="#333333" stroke="#333333" stroke-width="0.2" text-anchor="middle">15</text>
<line x1="199.50" y1="424.50" x2="199.50" y2="427.50" stroke="#2a2a2a" stroke-width="1.0"/>
<text x="199.60" y="437.16" font-size="8.2" fill="#333333" stroke="#333333" stroke-width="0.2" text-anchor="middle">20</text>
<line x1="235.50" y1="424.50" x2="235.50" y2="427.50" stroke="#2a2a2a" stroke-width="1.0"/>
<text x="235.65" y="437.16" font-size="8.2" fill="#333333" stroke="#333333" stroke-width="0.2" text-anchor="middle">25</text>
<text x="126.60" y="449.96" font-size="9.6" fill="#333333" stroke="#333333" stroke-width="0.4" textLength="41.90" lengthAdjust="spacingAndGlyphs">Time (years)</text>
<text transform="translate(30.80,377.80) rotate(-90)" x="0" y="0" font-size="9.3" fill="#333333" stroke="#333333" stroke-width="0.4" textLength="24.30" lengthAdjust="spacingAndGlyphs">% Alive</text>
<text x="166.00" y="258.41" font-size="8.0" fill="#333333" stroke="#333333" stroke-width="0.2" textLength="6.00" lengthAdjust="spacingAndGlyphs">N</text>
<text x="188.45" y="258.41" font-size="8.0" fill="#333333" stroke="#333333" stroke-width="0.2" textLength="48.75" lengthAdjust="spacingAndGlyphs">Without event</text>
<line x1="111.40" y1="266.80" x2="119.50" y2="266.80" stroke="#B0404F" stroke-width="1.0"/>
<line x1="115.45" y1="265.20" x2="115.45" y2="267.10" stroke="#B0404F" stroke-width="0.8"/>
<line x1="111.40" y1="277.00" x2="119.50" y2="277.00" stroke="#A8D098" stroke-width="1.0"/>
<line x1="115.45" y1="275.40" x2="115.45" y2="277.30" stroke="#A8D098" stroke-width="0.8"/>
<line x1="111.40" y1="288.30" x2="119.50" y2="288.30" stroke="#323E72" stroke-width="1.0"/>
<line x1="115.45" y1="286.70" x2="115.45" y2="288.60" stroke="#323E72" stroke-width="0.8"/>
<line x1="111.70" y1="299.60" x2="119.70" y2="299.60" stroke="#4A3A6E" stroke-width="1.0"/>
<text x="126.30" y="269.91" font-size="8.0" fill="#333333" stroke="#333333" stroke-width="0.2" textLength="27.30" lengthAdjust="spacingAndGlyphs">IGHV-M</text>
<text x="126.30" y="280.21" font-size="8.0" fill="#333333" stroke="#333333" stroke-width="0.2" textLength="32.40" lengthAdjust="spacingAndGlyphs">IGHV-UM</text>
<text x="126.30" y="290.91" font-size="8.0" fill="#333333" stroke="#333333" stroke-width="0.2" textLength="25.90" lengthAdjust="spacingAndGlyphs">Missing</text>
<text x="168.70" y="270.01" font-size="8.0" fill="#333333" stroke="#333333" stroke-width="0.2" text-anchor="middle">88</text>
<text x="212.80" y="270.01" font-size="8.0" fill="#333333" stroke="#333333" stroke-width="0.2" text-anchor="middle">53</text>
<text x="168.70" y="280.21" font-size="8.0" fill="#333333" stroke="#333333" stroke-width="0.2" text-anchor="middle">126</text>
<text x="212.80" y="280.21" font-size="8.0" fill="#333333" stroke="#333333" stroke-width="0.2" text-anchor="middle">34</text>
<text x="168.70" y="290.61" font-size="8.0" fill="#333333" stroke="#333333" stroke-width="0.2" text-anchor="middle">86</text>
<text x="212.80" y="290.61" font-size="8.0" fill="#333333" stroke="#333333" stroke-width="0.2" text-anchor="middle">44</text>
<text x="126.30" y="301.41" font-size="8.0" fill="#333333" stroke="#333333" stroke-width="0.2" textLength="112.80" lengthAdjust="spacingAndGlyphs">Age and sex-matched population</text>
<text x="8.70" y="462.77" font-size="8.4" fill="#222" stroke="#222" stroke-width="0.2" textLength="34.40" lengthAdjust="spacingAndGlyphs">No at risk</text>
<text x="14.50" y="474.57" font-size="8.4" fill="#A43A50" stroke="#A43A50" stroke-width="0.2" textLength="28.90" lengthAdjust="spacingAndGlyphs">IGHV-M</text>
<text x="55.40" y="474.57" font-size="8.4" fill="#A43A50" stroke="#A43A50" stroke-width="0.2" text-anchor="middle">88</text>
<text x="91.45" y="474.57" font-size="8.4" fill="#A43A50" stroke="#A43A50" stroke-width="0.2" text-anchor="middle">76</text>
<text x="127.50" y="474.57" font-size="8.4" fill="#A43A50" stroke="#A43A50" stroke-width="0.2" text-anchor="middle">62</text>
<text x="163.55" y="474.57" font-size="8.4" fill="#A43A50" stroke="#A43A50" stroke-width="0.2" text-anchor="middle">44</text>
<text x="199.60" y="474.57" font-size="8.4" fill="#A43A50" stroke="#A43A50" stroke-width="0.2" text-anchor="middle">19</text>
<text x="235.65" y="474.57" font-size="8.4" fill="#A43A50" stroke="#A43A50" stroke-width="0.2" text-anchor="middle">0</text>
<text x="8.70" y="486.47" font-size="8.4" fill="#7DB062" stroke="#7DB062" stroke-width="0.2" textLength="34.70" lengthAdjust="spacingAndGlyphs">IGHV-UM</text>
<text x="55.40" y="486.47" font-size="8.4" fill="#7DB062" stroke="#7DB062" stroke-width="0.2" text-anchor="middle">126</text>
<text x="91.45" y="486.47" font-size="8.4" fill="#7DB062" stroke="#7DB062" stroke-width="0.2" text-anchor="middle">98</text>
<text x="127.50" y="486.47" font-size="8.4" fill="#7DB062" stroke="#7DB062" stroke-width="0.2" text-anchor="middle">54</text>
<text x="163.55" y="486.47" font-size="8.4" fill="#7DB062" stroke="#7DB062" stroke-width="0.2" text-anchor="middle">31</text>
<text x="199.60" y="486.47" font-size="8.4" fill="#7DB062" stroke="#7DB062" stroke-width="0.2" text-anchor="middle">12</text>
<text x="235.65" y="486.47" font-size="8.4" fill="#7DB062" stroke="#7DB062" stroke-width="0.2" text-anchor="middle">0</text>
<text x="16.20" y="497.87" font-size="8.4" fill="#3E4672" stroke="#3E4672" stroke-width="0.2" textLength="27.20" lengthAdjust="spacingAndGlyphs">Missing</text>
<text x="55.40" y="497.87" font-size="8.4" fill="#3E4672" stroke="#3E4672" stroke-width="0.2" text-anchor="middle">86</text>
<text x="91.45" y="497.87" font-size="8.4" fill="#3E4672" stroke="#3E4672" stroke-width="0.2" text-anchor="middle">67</text>
<text x="127.50" y="497.87" font-size="8.4" fill="#3E4672" stroke="#3E4672" stroke-width="0.2" text-anchor="middle">54</text>
<text x="163.55" y="497.87" font-size="8.4" fill="#3E4672" stroke="#3E4672" stroke-width="0.2" text-anchor="middle">35</text>
<text x="199.60" y="497.87" font-size="8.4" fill="#3E4672" stroke="#3E4672" stroke-width="0.2" text-anchor="middle">14</text>
<text x="235.65" y="497.87" font-size="8.4" fill="#3E4672" stroke="#3E4672" stroke-width="0.2" text-anchor="middle">0</text>
<polyline points="55.50,310.50 57.50,310.50 57.50,311.50 58.50,311.50 58.50,312.50 60.50,312.50 60.50,313.50 62.50,313.50 62.50,315.50 65.50,315.50 65.50,316.50 67.50,316.50 67.50,317.50 70.50,317.50 70.50,318.50 71.50,318.50 71.50,320.50 73.50,320.50 73.50,321.50 74.50,321.50 74.50,322.50 75.50,322.50 75.50,324.50 76.50,324.50 76.50,325.50 78.50,325.50 78.50,326.50 79.50,326.50 79.50,328.50 80.50,328.50 80.50,329.50 83.50,329.50 83.50,330.50 85.50,330.50 85.50,331.50 87.50,331.50 87.50,332.50 89.50,332.50 89.50,333.50 90.50,333.50 90.50,334.50 91.50,334.50 91.50,336.50 93.50,336.50 93.50,337.50 93.50,338.50 94.50,338.50 94.50,339.50 94.50,340.50 95.50,340.50 95.50,341.50 95.50,342.50 96.50,342.50 96.50,344.50 97.50,344.50 97.50,345.50 99.50,345.50 99.50,346.50 100.50,346.50 100.50,347.50 101.50,347.50 101.50,348.50 102.50,348.50 102.50,349.50 103.50,349.50 103.50,350.50 104.50,350.50 104.50,352.50 105.50,352.50 105.50,353.50 106.50,353.50 106.50,354.50 107.50,354.50 107.50,355.50 108.50,355.50 108.50,357.50 110.50,357.50 110.50,358.50 113.50,358.50 113.50,359.50 115.50,359.50 115.50,360.50 117.50,360.50 117.50,361.50 118.50,361.50 118.50,363.50 120.50,363.50 120.50,364.50 121.50,364.50 121.50,365.50 122.50,365.50 122.50,366.50 123.50,366.50 123.50,367.50 124.50,367.50 124.50,369.50 125.50,369.50 125.50,370.50 126.50,370.50 126.50,371.50 127.50,371.50 127.50,372.50 128.50,372.50 128.50,374.50 129.50,374.50 129.50,375.50 130.50,375.50 130.50,376.50 132.50,376.50 132.50,377.50 133.50,377.50 133.50,378.50 135.50,378.50 135.50,379.50 137.50,379.50 137.50,380.50 138.50,380.50 138.50,381.50 139.50,381.50 139.50,382.50 139.50,384.50 140.50,384.50 140.50,385.50 147.50,385.50 147.50,386.50 165.50,386.50 165.50,387.50 172.50,387.50 172.50,388.50 173.50,388.50 173.50,389.50 175.50,389.50 175.50,390.50 177.50,390.50 177.50,391.50 179.50,391.50 179.50,393.50 182.50,393.50 182.50,394.50 192.50,394.50 192.50,395.50 194.50,395.50 194.50,396.50 204.50,396.50 205.50,396.50 205.50,397.50 205.50,399.50 206.50,399.50 206.50,400.50 221.50,400.50" fill="none" stroke="#78AE64" stroke-width="0.8" stroke-linejoin="miter" opacity="1.0"/>
<polyline points="55.50,310.50 57.50,310.50 57.50,311.50 58.50,311.50 58.50,312.50 60.50,312.50 60.50,313.50 61.50,313.50 61.50,315.50 63.50,315.50 63.50,316.50 68.50,316.50 68.50,318.50 69.50,318.50 69.50,319.50 70.50,319.50 70.50,320.50 71.50,320.50 71.50,321.50 72.50,321.50 72.50,322.50 72.50,323.50 73.50,323.50 73.50,325.50 74.50,325.50 74.50,326.50 75.50,326.50 75.50,327.50 76.50,327.50 76.50,328.50 77.50,328.50 77.50,329.50 79.50,329.50 79.50,331.50 80.50,331.50 80.50,332.50 81.50,332.50 81.50,333.50 83.50,333.50 83.50,334.50 86.50,334.50 86.50,335.50 89.50,335.50 89.50,336.50 94.50,336.50 94.50,337.50 95.50,337.50 95.50,338.50 97.50,338.50 97.50,339.50 98.50,339.50 98.50,340.50 99.50,340.50 99.50,341.50 100.50,341.50 100.50,342.50 101.50,342.50 101.50,344.50 108.50,344.50 108.50,345.50 117.50,345.50 117.50,346.50 120.50,346.50 120.50,347.50 122.50,347.50 122.50,348.50 124.50,348.50 124.50,350.50 126.50,350.50 126.50,351.50 132.50,351.50 132.50,352.50 137.50,352.50 137.50,353.50 139.50,353.50 139.50,355.50 142.50,355.50 142.50,356.50 144.50,356.50 144.50,357.50 151.50,357.50 151.50,358.50 154.50,358.50 154.50,359.50 158.50,359.50 158.50,360.50 173.50,360.50 174.50,360.50 174.50,361.50 175.50,361.50 175.50,363.50 176.50,363.50 176.50,364.50 177.50,364.50 177.50,365.50 185.50,365.50 186.50,365.50 186.50,366.50 187.50,366.50 187.50,367.50 188.50,367.50 188.50,368.50 188.50,369.50 189.50,369.50 189.50,370.50 221.50,370.50" fill="none" stroke="#323E72" stroke-width="0.8" stroke-linejoin="miter" opacity="1.0"/>
<polyline points="55.50,310.50 57.50,310.50 57.50,311.50 60.50,311.50 60.50,312.50 60.50,313.50 61.50,313.50 61.50,314.50 62.50,314.50 62.50,315.50 64.50,315.50 64.50,316.50 66.50,316.50 66.50,317.50 69.50,317.50 69.50,318.50 72.50,318.50 72.50,319.50 77.50,319.50 77.50,321.50 86.50,321.50 86.50,322.50 87.50,322.50 87.50,323.50 89.50,323.50 89.50,325.50 94.50,325.50 94.50,326.50 99.50,326.50 99.50,327.50 101.50,327.50 101.50,328.50 102.50,328.50 102.50,329.50 103.50,329.50 103.50,331.50 112.50,331.50 112.50,332.50 116.50,332.50 116.50,333.50 120.50,333.50 120.50,334.50 123.50,334.50 123.50,336.50 126.50,336.50 126.50,337.50 130.50,337.50 130.50,338.50 133.50,338.50 133.50,340.50 140.50,340.50 140.50,341.50 141.50,341.50 141.50,342.50 142.50,342.50 142.50,343.50 143.50,343.50 143.50,345.50 144.50,345.50 144.50,346.50 154.50,346.50 155.50,346.50 155.50,348.50 157.50,348.50 157.50,349.50 158.50,349.50 158.50,350.50 165.50,350.50 165.50,352.50 172.50,352.50 172.50,353.50 177.50,353.50 182.50,353.50 182.50,354.50 188.50,354.50 188.50,355.50 193.50,355.50 193.50,357.50 215.50,357.50 215.50,358.50 215.50,360.50 215.50,361.50 215.50,362.50 215.50,363.50 215.50,365.50 215.50,366.50 215.50,367.50 215.50,368.50 215.50,369.50 215.50,371.50 215.50,372.50 215.50,373.50 215.50,374.50 223.50,374.50" fill="none" stroke="#B0404F" stroke-width="0.8" stroke-linejoin="miter" opacity="1.0"/>
<polyline points="55.60,310.20 70.40,315.20 87.70,321.20 105.10,326.90 120.00,330.80 131.50,334.30 143.10,338.50 154.60,343.10 166.20,348.20 177.70,353.50 189.20,358.80 200.80,363.40 212.30,367.30 221.50,369.60" fill="none" stroke="#4A3A6E" stroke-width="0.8" stroke-linejoin="miter" opacity="1.0"/>
<line x1="97.60" y1="327.50" x2="97.60" y2="325.60" stroke="#B0404F" stroke-width="0.8"/>
<line x1="103.22" y1="331.22" x2="103.22" y2="329.32" stroke="#B0404F" stroke-width="0.8"/>
<line x1="110.59" y1="332.81" x2="110.59" y2="330.91" stroke="#B0404F" stroke-width="0.8"/>
<line x1="116.52" y1="334.22" x2="116.52" y2="332.32" stroke="#B0404F" stroke-width="0.8"/>
<line x1="121.92" y1="335.82" x2="121.92" y2="333.92" stroke="#B0404F" stroke-width="0.8"/>
<line x1="129.33" y1="338.60" x2="129.33" y2="336.70" stroke="#B0404F" stroke-width="0.8"/>
<line x1="139.84" y1="341.76" x2="139.84" y2="339.86" stroke="#B0404F" stroke-width="0.8"/>
<line x1="149.64" y1="346.81" x2="149.64" y2="344.91" stroke="#B0404F" stroke-width="0.8"/>
<line x1="159.23" y1="350.95" x2="159.23" y2="349.05" stroke="#B0404F" stroke-width="0.8"/>
<line x1="165.56" y1="352.45" x2="165.56" y2="350.55" stroke="#B0404F" stroke-width="0.8"/>
<line x1="173.78" y1="353.59" x2="173.78" y2="351.69" stroke="#B0404F" stroke-width="0.8"/>
<line x1="180.44" y1="354.68" x2="180.44" y2="352.78" stroke="#B0404F" stroke-width="0.8"/>
<line x1="186.48" y1="355.85" x2="186.48" y2="353.95" stroke="#B0404F" stroke-width="0.8"/>
<line x1="192.12" y1="357.46" x2="192.12" y2="355.56" stroke="#B0404F" stroke-width="0.8"/>
<line x1="198.40" y1="357.90" x2="198.40" y2="356.00" stroke="#B0404F" stroke-width="0.8"/>
<line x1="208.97" y1="357.90" x2="208.97" y2="356.00" stroke="#B0404F" stroke-width="0.8"/>
<line x1="218.94" y1="375.20" x2="218.94" y2="373.30" stroke="#B0404F" stroke-width="0.8"/>
<line x1="106.85" y1="345.68" x2="106.85" y2="343.78" stroke="#323E72" stroke-width="0.8"/>
<line x1="116.30" y1="346.90" x2="116.30" y2="345.00" stroke="#323E72" stroke-width="0.8"/>
<line x1="126.07" y1="351.18" x2="126.07" y2="349.28" stroke="#323E72" stroke-width="0.8"/>
<line x1="136.73" y1="354.03" x2="136.73" y2="352.13" stroke="#323E72" stroke-width="0.8"/>
<line x1="146.17" y1="357.84" x2="146.17" y2="355.94" stroke="#323E72" stroke-width="0.8"/>
<line x1="156.70" y1="360.54" x2="156.70" y2="358.64" stroke="#323E72" stroke-width="0.8"/>
<line x1="161.88" y1="361.10" x2="161.88" y2="359.20" stroke="#323E72" stroke-width="0.8"/>
<line x1="169.67" y1="361.10" x2="169.67" y2="359.20" stroke="#323E72" stroke-width="0.8"/>
<line x1="180.33" y1="365.50" x2="180.33" y2="363.60" stroke="#323E72" stroke-width="0.8"/>
<line x1="189.22" y1="370.69" x2="189.22" y2="368.79" stroke="#323E72" stroke-width="0.8"/>
<line x1="199.63" y1="371.10" x2="199.63" y2="369.20" stroke="#323E72" stroke-width="0.8"/>
<line x1="205.31" y1="371.10" x2="205.31" y2="369.20" stroke="#323E72" stroke-width="0.8"/>
<line x1="213.12" y1="371.10" x2="213.12" y2="369.20" stroke="#323E72" stroke-width="0.8"/>
<line x1="219.60" y1="371.10" x2="219.60" y2="369.20" stroke="#323E72" stroke-width="0.8"/>
<line x1="128.73" y1="374.84" x2="128.73" y2="372.94" stroke="#78AE64" stroke-width="0.8"/>
<line x1="138.66" y1="382.69" x2="138.66" y2="380.79" stroke="#78AE64" stroke-width="0.8"/>
<line x1="146.57" y1="386.88" x2="146.57" y2="384.98" stroke="#78AE64" stroke-width="0.8"/>
<line x1="153.14" y1="387.45" x2="153.14" y2="385.55" stroke="#78AE64" stroke-width="0.8"/>
<line x1="158.14" y1="387.68" x2="158.14" y2="385.78" stroke="#78AE64" stroke-width="0.8"/>
<line x1="167.12" y1="388.25" x2="167.12" y2="386.35" stroke="#78AE64" stroke-width="0.8"/>
<line x1="174.94" y1="390.68" x2="174.94" y2="388.78" stroke="#78AE64" stroke-width="0.8"/>
<line x1="184.50" y1="395.13" x2="184.50" y2="393.23" stroke="#78AE64" stroke-width="0.8"/>
<line x1="191.74" y1="395.67" x2="191.74" y2="393.77" stroke="#78AE64" stroke-width="0.8"/>
<line x1="201.36" y1="397.10" x2="201.36" y2="395.20" stroke="#78AE64" stroke-width="0.8"/>
<line x1="207.99" y1="400.47" x2="207.99" y2="398.57" stroke="#78AE64" stroke-width="0.8"/>
<line x1="217.81" y1="400.92" x2="217.81" y2="399.02" stroke="#78AE64" stroke-width="0.8"/>
<text x="262.80" y="259.04" font-size="11.1" font-weight="bold" fill="#111" stroke="#111" stroke-width="0.3" textLength="8.20" lengthAdjust="spacingAndGlyphs">D</text>
<line x1="327.50" y1="306.50" x2="327.50" y2="424.50" stroke="#2a2a2a" stroke-width="1.0"/>
<line x1="327.00" y1="424.50" x2="511.50" y2="424.50" stroke="#2a2a2a" stroke-width="1.0"/>
<line x1="324.50" y1="424.50" x2="327.50" y2="424.50" stroke="#2a2a2a" stroke-width="1.0"/>
<text x="322.40" y="427.26" font-size="8.2" fill="#333333" stroke="#333333" stroke-width="0.2" text-anchor="end">0</text>
<line x1="324.50" y1="395.50" x2="327.50" y2="395.50" stroke="#2a2a2a" stroke-width="1.0"/>
<text x="322.40" y="398.44" font-size="8.2" fill="#333333" stroke="#333333" stroke-width="0.2" text-anchor="end">25</text>
<line x1="324.50" y1="366.50" x2="327.50" y2="366.50" stroke="#2a2a2a" stroke-width="1.0"/>
<text x="322.40" y="369.61" font-size="8.2" fill="#333333" stroke="#333333" stroke-width="0.2" text-anchor="end">50</text>
<line x1="324.50" y1="337.50" x2="327.50" y2="337.50" stroke="#2a2a2a" stroke-width="1.0"/>
<text x="322.40" y="340.78" font-size="8.2" fill="#333333" stroke="#333333" stroke-width="0.2" text-anchor="end">75</text>
<line x1="324.50" y1="309.50" x2="327.50" y2="309.50" stroke="#2a2a2a" stroke-width="1.0"/>
<text x="322.40" y="311.96" font-size="8.2" fill="#333333" stroke="#333333" stroke-width="0.2" text-anchor="end">100</text>
<line x1="327.50" y1="424.50" x2="327.50" y2="427.50" stroke="#2a2a2a" stroke-width="1.0"/>
<text x="327.50" y="437.46" font-size="8.2" fill="#333333" stroke="#333333" stroke-width="0.2" text-anchor="middle">0</text>
<line x1="363.50" y1="424.50" x2="363.50" y2="427.50" stroke="#2a2a2a" stroke-width="1.0"/>
<text x="363.70" y="437.46" font-size="8.2" fill="#333333" stroke="#333333" stroke-width="0.2" text-anchor="middle">5</text>
<line x1="399.50" y1="424.50" x2="399.50" y2="427.50" stroke="#2a2a2a" stroke-width="1.0"/>
<text x="399.90" y="437.46" font-size="8.2" fill="#333333" stroke="#333333" stroke-width="0.2" text-anchor="middle">10</text>
<line x1="436.50" y1="424.50" x2="436.50" y2="427.50" stroke="#2a2a2a" stroke-width="1.0"/>
<text x="436.10" y="437.46" font-size="8.2" fill="#333333" stroke="#333333" stroke-width="0.2" text-anchor="middle">15</text>
<line x1="472.50" y1="424.50" x2="472.50" y2="427.50" stroke="#2a2a2a" stroke-width="1.0"/>
<text x="472.30" y="437.46" font-size="8.2" fill="#333333" stroke="#333333" stroke-width="0.2" text-anchor="middle">20</text>
<line x1="508.50" y1="424.50" x2="508.50" y2="427.50" stroke="#2a2a2a" stroke-width="1.0"/>
<text x="508.50" y="437.46" font-size="8.2" fill="#333333" stroke="#333333" stroke-width="0.2" text-anchor="middle">25</text>
<text x="398.90" y="450.06" font-size="9.6" fill="#333333" stroke="#333333" stroke-width="0.4" textLength="41.10" lengthAdjust="spacingAndGlyphs">Time (years)</text>
<text transform="translate(302.30,412.70) rotate(-90)" x="0" y="0" font-size="9.3" fill="#333333" stroke="#333333" stroke-width="0.4" textLength="95.80" lengthAdjust="spacingAndGlyphs">% Alive and progression-free</text>
<text x="435.70" y="258.61" font-size="8.0" fill="#333333" stroke="#333333" stroke-width="0.2" textLength="6.80" lengthAdjust="spacingAndGlyphs">N</text>
<text x="459.10" y="258.61" font-size="8.0" fill="#333333" stroke="#333333" stroke-width="0.2" textLength="47.80" lengthAdjust="spacingAndGlyphs">Without event</text>
<line x1="343.90" y1="268.40" x2="351.90" y2="268.40" stroke="#AC3452" stroke-width="1.0"/>
<line x1="347.90" y1="266.80" x2="347.90" y2="268.70" stroke="#AC3452" stroke-width="0.8"/>
<line x1="343.90" y1="279.30" x2="351.90" y2="279.30" stroke="#CFA096" stroke-width="1.0"/>
<line x1="347.90" y1="277.70" x2="347.90" y2="279.60" stroke="#CFA096" stroke-width="0.8"/>
<line x1="343.90" y1="289.80" x2="351.90" y2="289.80" stroke="#363F6C" stroke-width="1.0"/>
<line x1="347.90" y1="288.20" x2="347.90" y2="290.10" stroke="#363F6C" stroke-width="0.8"/>
<line x1="343.90" y1="300.40" x2="351.90" y2="300.40" stroke="#6A7096" stroke-width="1.0"/>
<line x1="347.90" y1="298.80" x2="347.90" y2="300.70" stroke="#6A7096" stroke-width="0.8"/>
<text x="359.60" y="270.21" font-size="8.0" fill="#333333" stroke="#333333" stroke-width="0.2" textLength="61.70" lengthAdjust="spacingAndGlyphs">IGHV-M MRD-neg</text>
<text x="359.60" y="281.01" font-size="8.0" fill="#333333" stroke="#333333" stroke-width="0.2" textLength="60.60" lengthAdjust="spacingAndGlyphs">IGHV-M MRD-pos</text>
<text x="359.60" y="291.71" font-size="8.0" fill="#333333" stroke="#333333" stroke-width="0.2" textLength="66.90" lengthAdjust="spacingAndGlyphs">IGHV-UM MRD-neg</text>
<text x="359.60" y="302.01" font-size="8.0" fill="#333333" stroke="#333333" stroke-width="0.2" textLength="66.30" lengthAdjust="spacingAndGlyphs">IGHV-UM MRD-pos</text>
<text x="439.20" y="270.01" font-size="8.0" fill="#333333" stroke="#333333" stroke-width="0.2" text-anchor="middle">34</text>
<text x="482.60" y="270.01" font-size="8.0" fill="#333333" stroke="#333333" stroke-width="0.2" text-anchor="middle">27</text>
<text x="439.20" y="280.51" font-size="8.0" fill="#333333" stroke="#333333" stroke-width="0.2" text-anchor="middle">35</text>
<text x="482.60" y="280.51" font-size="8.0" fill="#333333" stroke="#333333" stroke-width="0.2" text-anchor="middle">13</text>
<text x="439.20" y="291.01" font-size="8.0" fill="#333333" stroke="#333333" stroke-width="0.2" text-anchor="middle">36</text>
<text x="482.60" y="291.01" font-size="8.0" fill="#333333" stroke="#333333" stroke-width="0.2" text-anchor="middle">7</text>
<text x="439.20" y="301.41" font-size="8.0" fill="#333333" stroke="#333333" stroke-width="0.2" text-anchor="middle">72</text>
<text x="482.60" y="301.41" font-size="8.0" fill="#333333" stroke="#333333" stroke-width="0.2" text-anchor="middle">3</text>
<text x="283.60" y="462.67" font-size="8.4" fill="#222" stroke="#222" stroke-width="0.2" textLength="34.40" lengthAdjust="spacingAndGlyphs">No at risk</text>
<text x="252.50" y="473.97" font-size="8.4" fill="#962E4A" stroke="#962E4A" stroke-width="0.2" textLength="65.80" lengthAdjust="spacingAndGlyphs">IGHV-M MRD-neg</text>
<text x="327.50" y="473.97" font-size="8.4" fill="#962E4A" stroke="#962E4A" stroke-width="0.2" text-anchor="middle">34</text>
<text x="363.70" y="473.97" font-size="8.4" fill="#962E4A" stroke="#962E4A" stroke-width="0.2" text-anchor="middle">31</text>
<text x="399.90" y="473.97" font-size="8.4" fill="#962E4A" stroke="#962E4A" stroke-width="0.2" text-anchor="middle">26</text>
<text x="436.10" y="473.97" font-size="8.4" fill="#962E4A" stroke="#962E4A" stroke-width="0.2" text-anchor="middle">20</text>
<text x="472.30" y="473.97" font-size="8.4" fill="#962E4A" stroke="#962E4A" stroke-width="0.2" text-anchor="middle">9</text>
<text x="508.50" y="473.97" font-size="8.4" fill="#962E4A" stroke="#962E4A" stroke-width="0.2" text-anchor="middle">0</text>
<text x="253.40" y="486.07" font-size="8.4" fill="#C09080" stroke="#C09080" stroke-width="0.2" textLength="64.90" lengthAdjust="spacingAndGlyphs">IGHV-M MRD-pos</text>
<text x="327.50" y="486.07" font-size="8.4" fill="#C09080" stroke="#C09080" stroke-width="0.2" text-anchor="middle">35</text>
<text x="363.70" y="486.07" font-size="8.4" fill="#C09080" stroke="#C09080" stroke-width="0.2" text-anchor="middle">23</text>
<text x="399.90" y="486.07" font-size="8.4" fill="#C09080" stroke="#C09080" stroke-width="0.2" text-anchor="middle">14</text>
<text x="436.10" y="486.07" font-size="8.4" fill="#C09080" stroke="#C09080" stroke-width="0.2" text-anchor="middle">8</text>
<text x="472.30" y="486.07" font-size="8.4" fill="#C09080" stroke="#C09080" stroke-width="0.2" text-anchor="middle">6</text>
<text x="508.50" y="486.07" font-size="8.4" fill="#C09080" stroke="#C09080" stroke-width="0.2" text-anchor="middle">0</text>
<text x="247.30" y="498.27" font-size="8.4" fill="#353F74" stroke="#353F74" stroke-width="0.2" textLength="71.00" lengthAdjust="spacingAndGlyphs">IGHV-UM MRD-neg</text>
<text x="327.50" y="498.27" font-size="8.4" fill="#353F74" stroke="#353F74" stroke-width="0.2" text-anchor="middle">36</text>
<text x="363.70" y="498.27" font-size="8.4" fill="#353F74" stroke="#353F74" stroke-width="0.2" text-anchor="middle">27</text>
<text x="399.90" y="498.27" font-size="8.4" fill="#353F74" stroke="#353F74" stroke-width="0.2" text-anchor="middle">9</text>
<text x="436.10" y="498.27" font-size="8.4" fill="#353F74" stroke="#353F74" stroke-width="0.2" text-anchor="middle">5</text>
<text x="472.30" y="498.27" font-size="8.4" fill="#353F74" stroke="#353F74" stroke-width="0.2" text-anchor="middle">2</text>
<text x="508.50" y="498.27" font-size="8.4" fill="#353F74" stroke="#353F74" stroke-width="0.2" text-anchor="middle">0</text>
<text x="247.80" y="509.17" font-size="8.4" fill="#7A809F" stroke="#7A809F" stroke-width="0.2" textLength="70.50" lengthAdjust="spacingAndGlyphs">IGHV-UM MRD-pos</text>
<text x="327.50" y="509.17" font-size="8.4" fill="#7A809F" stroke="#7A809F" stroke-width="0.2" text-anchor="middle">72</text>
<text x="363.70" y="509.17" font-size="8.4" fill="#7A809F" stroke="#7A809F" stroke-width="0.2" text-anchor="middle">23</text>
<text x="399.90" y="509.17" font-size="8.4" fill="#7A809F" stroke="#7A809F" stroke-width="0.2" text-anchor="middle">4</text>
<text x="436.10" y="509.17" font-size="8.4" fill="#7A809F" stroke="#7A809F" stroke-width="0.2" text-anchor="middle">2</text>
<text x="472.30" y="509.17" font-size="8.4" fill="#7A809F" stroke="#7A809F" stroke-width="0.2" text-anchor="middle">1</text>
<text x="508.50" y="509.17" font-size="8.4" fill="#7A809F" stroke="#7A809F" stroke-width="0.2" text-anchor="middle">0</text>
<polyline points="327.50,308.50 330.50,308.50 330.50,310.50 330.50,312.50 330.50,313.50 330.50,315.50 330.50,316.50 330.50,318.50 331.50,318.50 331.50,319.50 331.50,321.50 331.50,322.50 335.50,322.50 335.50,325.50 336.50,325.50 336.50,326.50 337.50,326.50 337.50,328.50 338.50,328.50 338.50,329.50 338.50,331.50 339.50,331.50 339.50,332.50 339.50,334.50 340.50,334.50 340.50,336.50 341.50,336.50 341.50,338.50 342.50,338.50 342.50,339.50 343.50,339.50 343.50,341.50 343.50,342.50 344.50,342.50 344.50,344.50 345.50,344.50 345.50,345.50 346.50,345.50 346.50,347.50 346.50,348.50 347.50,348.50 347.50,350.50 348.50,350.50 348.50,351.50 348.50,353.50 349.50,353.50 349.50,355.50 350.50,355.50 350.50,356.50 350.50,358.50 351.50,358.50 351.50,360.50 352.50,360.50 352.50,361.50 352.50,363.50 353.50,363.50 353.50,365.50 354.50,365.50 354.50,366.50 354.50,368.50 355.50,368.50 355.50,370.50 355.50,371.50 355.50,373.50 356.50,373.50 356.50,375.50 356.50,376.50 357.50,376.50 357.50,378.50 357.50,380.50 358.50,380.50 358.50,382.50 359.50,382.50 359.50,383.50 360.50,383.50 360.50,385.50 362.50,385.50 362.50,386.50 364.50,386.50 364.50,388.50 366.50,388.50 366.50,390.50 367.50,390.50 367.50,392.50 372.50,392.50 372.50,394.50 373.50,394.50 373.50,395.50 374.50,395.50 374.50,397.50 374.50,398.50 375.50,398.50 375.50,400.50 377.50,400.50 377.50,402.50 379.50,402.50 379.50,403.50 384.50,403.50 384.50,405.50 384.50,407.50 385.50,407.50 385.50,408.50 386.50,408.50 386.50,410.50 388.50,410.50 388.50,411.50 389.50,411.50 389.50,413.50 390.50,413.50 390.50,414.50 391.50,414.50 391.50,415.50 398.50,415.50 398.50,417.50 444.50,417.50 444.50,419.50 444.50,421.50 481.50,421.50" fill="none" stroke="#6A7096" stroke-width="0.8" stroke-linejoin="miter" opacity="1.0"/>
<polyline points="327.50,308.50 335.50,308.50 335.50,312.50 346.50,312.50 346.50,315.50 349.50,315.50 349.50,316.50 350.50,316.50 350.50,318.50 350.50,319.50 351.50,319.50 351.50,321.50 351.50,322.50 352.50,322.50 352.50,324.50 352.50,325.50 353.50,325.50 353.50,328.50 353.50,331.50 363.50,331.50 363.50,332.50 363.50,334.50 363.50,336.50 364.50,336.50 364.50,337.50 364.50,339.50 364.50,341.50 364.50,342.50 364.50,344.50 364.50,345.50 364.50,347.50 364.50,348.50 365.50,348.50 365.50,350.50 366.50,350.50 366.50,352.50 367.50,352.50 367.50,353.50 368.50,353.50 368.50,355.50 368.50,357.50 369.50,357.50 369.50,358.50 369.50,360.50 370.50,360.50 370.50,362.50 370.50,363.50 370.50,365.50 370.50,366.50 372.50,366.50 372.50,368.50 373.50,368.50 373.50,369.50 374.50,369.50 374.50,370.50 376.50,370.50 376.50,372.50 378.50,372.50 378.50,374.50 379.50,374.50 379.50,376.50 381.50,376.50 381.50,378.50 387.50,378.50 387.50,380.50 389.50,380.50 389.50,382.50 391.50,382.50 391.50,384.50 393.50,384.50 393.50,385.50 394.50,385.50 394.50,386.50 395.50,386.50 395.50,388.50 397.50,388.50 397.50,389.50 398.50,389.50 398.50,391.50 401.50,391.50 401.50,392.50 403.50,392.50 403.50,394.50 407.50,394.50 407.50,395.50 408.50,395.50 408.50,397.50 408.50,399.50 408.50,401.50 409.50,401.50 409.50,402.50 493.50,402.50" fill="none" stroke="#363F6C" stroke-width="0.8" stroke-linejoin="miter" opacity="1.0"/>
<polyline points="327.50,308.50 329.50,308.50 329.50,309.50 329.50,311.50 329.50,313.50 329.50,315.50 332.50,315.50 332.50,316.50 336.50,316.50 336.50,318.50 336.50,319.50 342.50,319.50 342.50,321.50 344.50,321.50 344.50,322.50 345.50,322.50 345.50,323.50 345.50,325.50 346.50,325.50 346.50,326.50 346.50,328.50 347.50,328.50 347.50,329.50 348.50,329.50 348.50,331.50 349.50,331.50 349.50,333.50 350.50,333.50 350.50,335.50 351.50,335.50 351.50,337.50 351.50,339.50 357.50,339.50 358.50,339.50 358.50,340.50 360.50,340.50 360.50,342.50 367.50,342.50 367.50,343.50 369.50,343.50 369.50,344.50 369.50,346.50 370.50,346.50 370.50,347.50 371.50,347.50 371.50,349.50 372.50,349.50 372.50,350.50 372.50,352.50 373.50,352.50 373.50,354.50 373.50,355.50 374.50,355.50 374.50,357.50 374.50,359.50 375.50,359.50 375.50,360.50 375.50,362.50 375.50,364.50 381.50,364.50 384.50,364.50 384.50,366.50 390.50,366.50 390.50,368.50 391.50,368.50 391.50,369.50 391.50,370.50 402.50,370.50 402.50,371.50 403.50,371.50 403.50,373.50 403.50,374.50 415.50,374.50 415.50,375.50 416.50,375.50 416.50,377.50 416.50,379.50 423.50,379.50 423.50,380.50 423.50,382.50 423.50,383.50 432.50,383.50 432.50,385.50 432.50,386.50 432.50,388.50 490.50,388.50" fill="none" stroke="#CFA096" stroke-width="0.8" stroke-linejoin="miter" opacity="1.0"/>
<polyline points="327.50,308.50 335.50,308.50 335.50,312.50 357.50,312.50 357.50,319.50 367.50,319.50 367.50,320.50 367.50,321.50 371.50,321.50 371.50,322.50 372.50,322.50 372.50,324.50 372.50,325.50 379.50,325.50 379.50,326.50 379.50,327.50 380.50,327.50 380.50,328.50 383.50,328.50 383.50,330.50 383.50,331.50 383.50,333.50 496.50,333.50" fill="none" stroke="#AC3452" stroke-width="0.8" stroke-linejoin="miter" opacity="1.0"/>
<line x1="407.91" y1="333.30" x2="407.91" y2="331.40" stroke="#AC3452" stroke-width="0.8"/>
<line x1="411.82" y1="333.30" x2="411.82" y2="331.40" stroke="#AC3452" stroke-width="0.8"/>
<line x1="418.73" y1="333.30" x2="418.73" y2="331.40" stroke="#AC3452" stroke-width="0.8"/>
<line x1="422.16" y1="333.30" x2="422.16" y2="331.40" stroke="#AC3452" stroke-width="0.8"/>
<line x1="428.38" y1="333.30" x2="428.38" y2="331.40" stroke="#AC3452" stroke-width="0.8"/>
<line x1="433.57" y1="333.30" x2="433.57" y2="331.40" stroke="#AC3452" stroke-width="0.8"/>
<line x1="436.92" y1="333.30" x2="436.92" y2="331.40" stroke="#AC3452" stroke-width="0.8"/>
<line x1="442.96" y1="333.30" x2="442.96" y2="331.40" stroke="#AC3452" stroke-width="0.8"/>
<line x1="446.19" y1="333.30" x2="446.19" y2="331.40" stroke="#AC3452" stroke-width="0.8"/>
<line x1="451.79" y1="333.30" x2="451.79" y2="331.40" stroke="#AC3452" stroke-width="0.8"/>
<line x1="455.21" y1="333.30" x2="455.21" y2="331.40" stroke="#AC3452" stroke-width="0.8"/>
<line x1="458.75" y1="333.30" x2="458.75" y2="331.40" stroke="#AC3452" stroke-width="0.8"/>
<line x1="464.30" y1="333.30" x2="464.30" y2="331.40" stroke="#AC3452" stroke-width="0.8"/>
<line x1="472.26" y1="333.30" x2="472.26" y2="331.40" stroke="#AC3452" stroke-width="0.8"/>
<line x1="476.00" y1="333.30" x2="476.00" y2="331.40" stroke="#AC3452" stroke-width="0.8"/>
<line x1="480.34" y1="333.30" x2="480.34" y2="331.40" stroke="#AC3452" stroke-width="0.8"/>
<line x1="487.11" y1="333.30" x2="487.11" y2="331.40" stroke="#AC3452" stroke-width="0.8"/>
<line x1="495.79" y1="333.30" x2="495.79" y2="331.40" stroke="#AC3452" stroke-width="0.8"/>
<line x1="427.04" y1="383.80" x2="427.04" y2="381.90" stroke="#CFA096" stroke-width="0.8"/>
<line x1="435.85" y1="388.50" x2="435.85" y2="386.60" stroke="#CFA096" stroke-width="0.8"/>
<line x1="440.48" y1="388.50" x2="440.48" y2="386.60" stroke="#CFA096" stroke-width="0.8"/>
<line x1="448.01" y1="388.50" x2="448.01" y2="386.60" stroke="#CFA096" stroke-width="0.8"/>
<line x1="452.43" y1="388.50" x2="452.43" y2="386.60" stroke="#CFA096" stroke-width="0.8"/>
<line x1="457.67" y1="388.50" x2="457.67" y2="386.60" stroke="#CFA096" stroke-width="0.8"/>
<line x1="466.67" y1="388.50" x2="466.67" y2="386.60" stroke="#CFA096" stroke-width="0.8"/>
<line x1="471.71" y1="388.50" x2="471.71" y2="386.60" stroke="#CFA096" stroke-width="0.8"/>
<line x1="478.92" y1="388.50" x2="478.92" y2="386.60" stroke="#CFA096" stroke-width="0.8"/>
<line x1="485.22" y1="388.50" x2="485.22" y2="386.60" stroke="#CFA096" stroke-width="0.8"/>
<line x1="415.56" y1="403.20" x2="415.56" y2="401.30" stroke="#363F6C" stroke-width="0.8"/>
<line x1="423.17" y1="403.20" x2="423.17" y2="401.30" stroke="#363F6C" stroke-width="0.8"/>
<line x1="429.14" y1="403.20" x2="429.14" y2="401.30" stroke="#363F6C" stroke-width="0.8"/>
<line x1="440.20" y1="403.20" x2="440.20" y2="401.30" stroke="#363F6C" stroke-width="0.8"/>
<line x1="445.25" y1="403.20" x2="445.25" y2="401.30" stroke="#363F6C" stroke-width="0.8"/>
<line x1="453.77" y1="403.20" x2="453.77" y2="401.30" stroke="#363F6C" stroke-width="0.8"/>
<line x1="465.06" y1="403.20" x2="465.06" y2="401.30" stroke="#363F6C" stroke-width="0.8"/>
<line x1="470.62" y1="403.20" x2="470.62" y2="401.30" stroke="#363F6C" stroke-width="0.8"/>
<line x1="479.50" y1="403.20" x2="479.50" y2="401.30" stroke="#363F6C" stroke-width="0.8"/>
<line x1="488.82" y1="403.20" x2="488.82" y2="401.30" stroke="#363F6C" stroke-width="0.8"/>
<line x1="408.00" y1="418.20" x2="408.00" y2="416.30" stroke="#6A7096" stroke-width="0.8"/>
<line x1="417.43" y1="418.20" x2="417.43" y2="416.30" stroke="#6A7096" stroke-width="0.8"/>
<line x1="428.06" y1="418.20" x2="428.06" y2="416.30" stroke="#6A7096" stroke-width="0.8"/>
<line x1="435.70" y1="418.20" x2="435.70" y2="416.30" stroke="#6A7096" stroke-width="0.8"/>
<line x1="448.21" y1="421.30" x2="448.21" y2="419.40" stroke="#6A7096" stroke-width="0.8"/>
<line x1="460.80" y1="421.30" x2="460.80" y2="419.40" stroke="#6A7096" stroke-width="0.8"/>
<line x1="472.03" y1="421.30" x2="472.03" y2="419.40" stroke="#6A7096" stroke-width="0.8"/>
<line x1="479.31" y1="421.30" x2="479.31" y2="419.40" stroke="#6A7096" stroke-width="0.8"/>
</svg>
</body></html>
